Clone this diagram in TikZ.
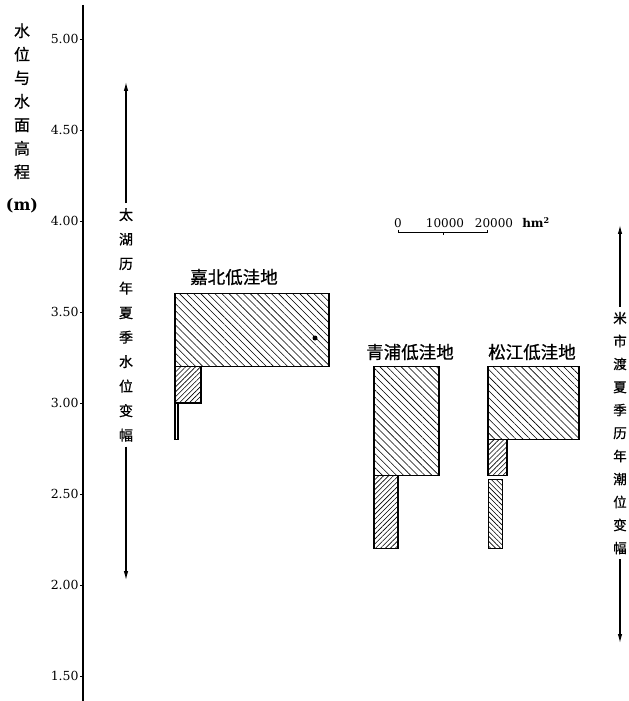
\documentclass[tikz,border=0pt]{standalone}
\usepackage{fontspec}
\setmainfont{DejaVu Serif}
\newfontfamily\cjk[FakeBold=0.8]{Noto Sans CJK SC}
\usetikzlibrary{arrows.meta}
\usetikzlibrary{patterns.meta}

\begin{document}
\begin{tikzpicture}[x=1pt,y=182pt,>={Latex[length=9pt,width=4.5pt]},
    bigarea/.style={draw,line width=1.1pt,pattern={Lines[angle=-45,distance=5pt,line width=0.6pt]}},
    smallarea/.style={draw,line width=1.1pt,pattern={Lines[angle=45,distance=3.5pt,line width=0.6pt]}},
    narrowarea/.style={draw,line width=0.8pt,pattern={Lines[angle=-45,distance=3.5pt,line width=0.6pt]}},
    vtext/.style={align=center,inner sep=0pt,outer sep=5pt},
    ticklabel/.style={left,inner sep=1pt,font=\fontsize{12.5}{15}\selectfont},
    scalelabel/.style={anchor=base,inner sep=0pt,font=\fontsize{12}{14}\selectfont},
    arealabel/.style={font=\cjk\fontsize{17.5}{20}\selectfont}]
    \useasboundingbox (0,1.3626) rectangle (629,5.2143);

    % Height axis
    \draw[line width=1.2pt] (83,5.187) -- (83,1.3626);
    \foreach \v [count=\i] in {1.50,2.00,2.50,3.00,3.50,4.00,4.50,5.00}
        \draw[line width=0.8pt] (80,\v) -- (83,\v) node[ticklabel] (tick\i) at (80,\v) {\v};
    \node[vtext,font=\cjk\fontsize{16}{23.5}\selectfont] (ylab) at (22,4.565)
        {水\\位\\与\\水\\面\\高\\程\\[9pt]\rmfamily\bfseries (m)};

    % Taihu range
    \coordinate (thtop) at (126,4.764);
    \coordinate (thbot) at (126,2.027);
    \node[vtext,font=\cjk\fontsize{14}{24.5}\selectfont] (taihu) at (126,3.429)
        {太\\湖\\历\\年\\夏\\季\\水\\位\\变\\幅};
    \draw[->,line width=1.1pt] (taihu) -- (thtop);
    \draw[->,line width=1.1pt] (taihu) -- (thbot);

    % Mishidu range, at the right edge
    \coordinate (mstop) at (620,3.978);
    \coordinate (msbot) at (620,1.681);
    \node[vtext,font=\cjk\fontsize{13.5}{23}\selectfont] (mishidu) at (620,2.835)
        {米\\市\\渡\\夏\\季\\历\\年\\潮\\位\\变\\幅};
    \draw[->,line width=1.1pt] (mishidu) -- (mstop);
    \draw[->,line width=1.1pt] (mishidu) -- (msbot);

    % Area scale
    \draw[line width=0.8pt] (398,3.952) -- (398,3.937) -- (487,3.937) -- (487,3.952);
    \draw[line width=0.8pt] (443,3.937) -- (443,3.925);
    \node[scalelabel] (s0) at (398,3.962) {0};
    \node[scalelabel] (s1) at (445,3.962) {10000};
    \node[scalelabel] (s2) at (494,3.962) {20000};
    \node[scalelabel] (unit) at (536,3.962) {\bfseries hm\textsuperscript{2}};

    % Jiabei
    \draw[bigarea] (175,3.2) rectangle (329,3.6);
    \draw[smallarea] (175,3.0) rectangle (201,3.2);
    \draw[line width=1.1pt] (175,2.8) rectangle (178,3.0);
    \fill (315,3.357) circle (2.5pt);
    \node[arealabel] (jiabei) at (234,3.692) {嘉北低洼地};

    % Qingpu
    \draw[bigarea] (374,2.6) rectangle (439,3.2);
    \draw[smallarea] (374,2.2) rectangle (398,2.6);
    \node[arealabel] (qingpu) at (410,3.28) {青浦低洼地};

    % Songjiang
    \draw[bigarea] (488,2.8) rectangle (579,3.2);
    \draw[smallarea] (488,2.6) rectangle (507,2.8);
    \draw[narrowarea] (488,2.2) rectangle (502,2.58);
    \node[arealabel] (songjiang) at (532,3.28) {松江低洼地};
\end{tikzpicture}
\end{document}
